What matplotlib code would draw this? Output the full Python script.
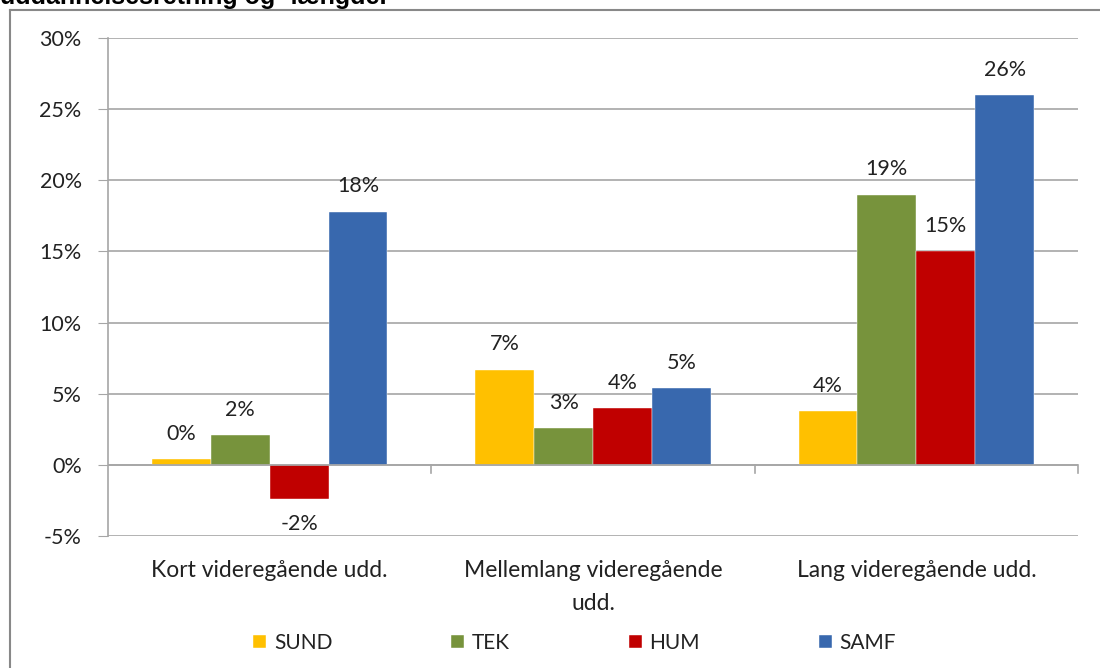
import numpy as np
import matplotlib.pyplot as plt
from matplotlib.lines import Line2D

# Data (percent)
categories = ['Kort videregående udd.', 'Mellemlang videregående\nudd.', 'Lang videregående udd.']
series_names = ['SUND', 'TEK', 'HUM', 'SAMF']
sund = [0.4, 6.7, 3.8]
tek = [2.1, 2.6, 19.0]
hum = [-2.4, 4.0, 15.0]
samf = [17.8, 5.4, 26.0]
y_ticks = [-5, 0, 5, 10, 15, 20, 25, 30]

colors = ['#FFC000', '#77933C', '#C00000', '#3868AE']
grid_col = '#A6A6A6'
txt_col = '#222222'

plt.rcParams['font.family'] = ['Lato', 'DejaVu Sans']

fig = plt.figure(figsize=(11, 6.68), dpi=100)
ax = fig.add_axes([0.0982, 0.1976, 0.8818, 0.7455])

x = np.arange(len(categories))
width = 0.182
values = [sund, tek, hum, samf]
for i, (name, vals, col) in enumerate(zip(series_names, values, colors)):
    pos = x + (i - 1.5) * width
    bars = ax.bar(pos, vals, width, color=col, label=name, zorder=3,
                  edgecolor='white', linewidth=0.3)
    for b, v in zip(bars, vals):
        off = 11 if v >= 0 else -11
        ax.annotate(f'{round(v):.0f}%', (b.get_x() + b.get_width() / 2, v),
                    xytext=(0, off), textcoords='offset points',
                    ha='center', va='bottom' if v >= 0 else 'top',
                    fontsize=15.5, color=txt_col)

ax.set_xlim(-0.5, 2.5)
ax.set_ylim(-5, 30)
ax.set_yticks(y_ticks)
ax.set_yticklabels([f'{t}%' for t in y_ticks], fontsize=15.5, color=txt_col)
ax.yaxis.grid(True, color=grid_col, linewidth=1.2, zorder=0)
ax.tick_params(axis='y', length=7, color=grid_col, pad=12)

ax.set_xticks(x)
ax.set_xticklabels(categories, fontsize=16.5, color=txt_col, linespacing=1.75)
ax.tick_params(axis='x', length=0, pad=17)

for s in ['top', 'right', 'bottom']:
    ax.spines[s].set_visible(False)
ax.spines['left'].set_color(grid_col)
ax.spines['left'].set_linewidth(1.2)

# category axis at zero with ticks between groups
ax.axhline(0, color=grid_col, linewidth=1.2, zorder=4)
for b in [0.5, 1.5, 2.5]:
    ax.plot([b, b], [0, -0.6], color=grid_col, linewidth=1.2, clip_on=False, zorder=4)

leg = ax.legend(loc='center', bbox_to_anchor=(0.5223, 0.0374),
                bbox_transform=fig.transFigure, ncol=4, frameon=False,
                fontsize=15, handlelength=0.62, handleheight=0.62,
                handletextpad=0.38, columnspacing=5.7)
for t in leg.get_texts():
    t.set_color(txt_col)

# outer chart frame and clipped title
fig.add_artist(Line2D([0.0091, 0.0091], [0, 0.985], color='#888888', linewidth=1.5))
fig.add_artist(Line2D([0.0091, 1.0], [0.985, 0.985], color='#888888', linewidth=1.5))
fig.text(0.0, 0.9945, 'uddannelsesretning og -længde.', fontsize=18, fontweight='bold',
         family=['Liberation Sans', 'DejaVu Sans'], ha='left', va='baseline')

fig.savefig('out.png', dpi=100)
